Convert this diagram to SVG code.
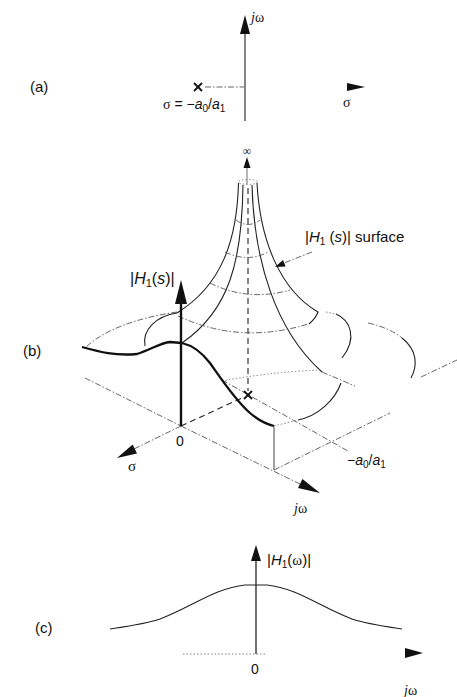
<svg xmlns="http://www.w3.org/2000/svg" width="457" height="697" viewBox="0 0 457 697">
<style>
text{font-family:"Liberation Sans",Arial,sans-serif;fill:#111}
.g{font-family:"Liberation Serif","Times New Roman",serif}
.i{font-style:italic}
.thin{stroke:#222;stroke-width:1.1;fill:none}
.dd{stroke:#555;stroke-width:0.9;stroke-dasharray:6 2 1.5 2;fill:none}
.dot{stroke:#777;stroke-width:0.9;stroke-dasharray:1.5 2;fill:none}
.dash{stroke:#222;stroke-width:1.1;stroke-dasharray:6 4;fill:none}
.thick{stroke:#111;stroke-width:2.3;fill:none;stroke-linejoin:round}
.ah{fill:#111;stroke:none}
</style>
<rect width="457" height="697" fill="#fff"/>

<!-- Part (a) -->
<g id="part-a">
  <text x="30" y="92" font-size="15">(a)</text>
  <line x1="245" y1="121" x2="245" y2="32" class="thin"/>
  <polygon class="ah" points="245,15 250,34 240,34"/>
  <text x="251" y="22" font-size="14" class="g"><tspan class="i">j</tspan>ω</text>
  <g id="pole-a" stroke="#111" stroke-width="1.8">
    <line x1="194" y1="83" x2="202" y2="91"/><line x1="194" y1="91" x2="202" y2="83"/>
  </g>
  <line x1="205" y1="87" x2="244" y2="87" class="dd"/>
  <text x="163" y="109" font-size="14"><tspan class="g">σ</tspan> = −<tspan class="i">a</tspan><tspan font-size="10" dy="3">0</tspan><tspan dy="-3">/</tspan><tspan class="i">a</tspan><tspan font-size="10" dy="3">1</tspan></text>
  <polygon class="ah" points="365,87 347,83 347,91"/>
  <text x="343" y="107" font-size="14" class="g">σ</text>
</g>

<!-- Part (b) -->
<g id="part-b">
  <text x="23" y="356" font-size="15">(b)</text>
  <g id="connectors">
    <line x1="85" y1="378" x2="181" y2="426" class="dd"/>
    <line x1="181" y1="426" x2="300" y2="484" class="dd"/>
    <polygon class="ah" points="320,493 302.4,479 298,488"/>
    <line x1="181" y1="426" x2="134" y2="449" class="dd"/>
    <polygon class="ah" points="117,458 137,453.6 132.7,444.6"/>
    <line x1="181" y1="426" x2="244" y2="397" class="dash"/>
    <line x1="222" y1="380" x2="348" y2="451" class="dd"/>
    <line x1="274" y1="427" x2="274" y2="470" stroke="#444" stroke-width="1"/>
    <line x1="274" y1="470" x2="390" y2="413" class="dd"/>
    <line x1="248" y1="188" x2="248" y2="391" class="dash"/>
    <line x1="247" y1="184" x2="247" y2="167" stroke="#888" stroke-width="1.2"/>
    <polygon class="ah" points="247,157 250.5,168 243.5,168"/>
    <line x1="312" y1="252" x2="284" y2="263" class="dd"/>
    <polygon class="ah" points="275,267 285.6,266.5 283,260.1"/>
  </g>
  <g id="surface">
    <ellipse cx="248" cy="182" rx="9.5" ry="2.5" class="dot"/>
    <path d="M238.5,183 C237,240 222,285 177,313" class="thin"/>
    <path d="M243,185 C242,260 230,310 182,343" class="thin"/>
    <path d="M252,185 C254,260 275,330 322,372" class="thin"/>
    <path d="M322,372 L355,386" class="dd"/>
    <path d="M257,183 C260,240 280,290 318,312 Q316,318 309,324" class="thin"/>
    <path d="M236,220 Q248,229 260,220" class="dd"/>
    <path d="M225,252 Q248,263 268,252" class="dd"/>
    <path d="M210,283 Q248,302 290,290" class="dd"/>
    <path d="M178,316 Q240,345 308,324" class="dd"/>
    <path d="M177,312 C150,316 110,325 86,347" class="dd"/>
    <path d="M145,346 C142,330 156,316 177,313" class="thin"/>
    <path d="M326,312 L336,314" class="dot"/>
    <path d="M336,314 C350,320 358,338 342,358" class="thin"/>
    <path d="M368,323 Q390,328 402,338" class="dd"/>
    <path d="M402,338 C417,350 418,365 411,378" class="thin"/>
    <path d="M421,377 L457,360" class="dd"/>
    <path d="M222,381 Q270,372 320,370" class="dot"/>
    <path d="M274,426 L298,420" class="dot"/>
    <path d="M298,420 C318,416 335,400 341,383" class="thin"/>
  </g>
  <g id="h-axis">
    <line x1="181" y1="426" x2="181" y2="300" stroke="#111" stroke-width="2.4"/>
    <polygon class="ah" points="181,280 187,304 175,304"/>
  </g>
  <path id="jw-section" class="thick" d="M82,347 C100,352 115,356 137,354 C150,350 160,343 170,342 L182,343 C195,346 203,354 210,363 C222,380 235,400 250,413 C258,420 266,424 274,426"/>
  <g id="pole-b" stroke="#111" stroke-width="1.8">
    <line x1="244" y1="391" x2="252" y2="399"/><line x1="244" y1="399" x2="252" y2="391"/>
  </g>
  <text x="247" y="155" font-size="12" text-anchor="middle" class="g">∞</text>
  <text x="130" y="284" font-size="16">|<tspan class="i">H</tspan><tspan font-size="11" dy="3">1</tspan><tspan dy="-3">(</tspan><tspan class="i">s</tspan>)|</text>
  <text x="305" y="242" font-size="15">|<tspan class="i">H</tspan><tspan font-size="10" dy="3">1</tspan><tspan dy="-3"> (</tspan><tspan class="i">s</tspan>)| surface</text>
  <text x="180" y="446" font-size="14" text-anchor="middle">0</text>
  <text x="128" y="471" font-size="15" class="g">σ</text>
  <text x="294" y="513" font-size="14" class="g"><tspan class="i">j</tspan>ω</text>
  <text x="347" y="465" font-size="14">−<tspan class="i">a</tspan><tspan font-size="10" dy="3">0</tspan><tspan dy="-3">/</tspan><tspan class="i">a</tspan><tspan font-size="10" dy="3">1</tspan></text>
</g>

<!-- Part (c) -->
<g id="part-c">
  <text x="35" y="633" font-size="15">(c)</text>
  <line x1="256" y1="654" x2="256" y2="558" stroke="#111" stroke-width="1.2"/>
  <polygon class="ah" points="256,545 261,561 251,561"/>
  <text x="267" y="565" font-size="15">|<tspan class="i">H</tspan><tspan font-size="10" dy="3">1</tspan><tspan dy="-3">(</tspan><tspan class="g">ω</tspan>)|</text>
  <path class="thin" stroke-width="1.5" d="M110,629 C130,626 145,624 160,619 C190,608 215,588 245,585 L267,585 C297,588 322,608 352,619 C367,624 382,626 402,629"/>
  <line x1="183" y1="654" x2="267" y2="654" class="dot"/>
  <polygon class="ah" points="423,653 405,648 405,658"/>
  <text x="255" y="674" font-size="14" text-anchor="middle">0</text>
  <text x="404" y="695" font-size="14" class="g"><tspan class="i">j</tspan>ω</text>
</g>
</svg>
